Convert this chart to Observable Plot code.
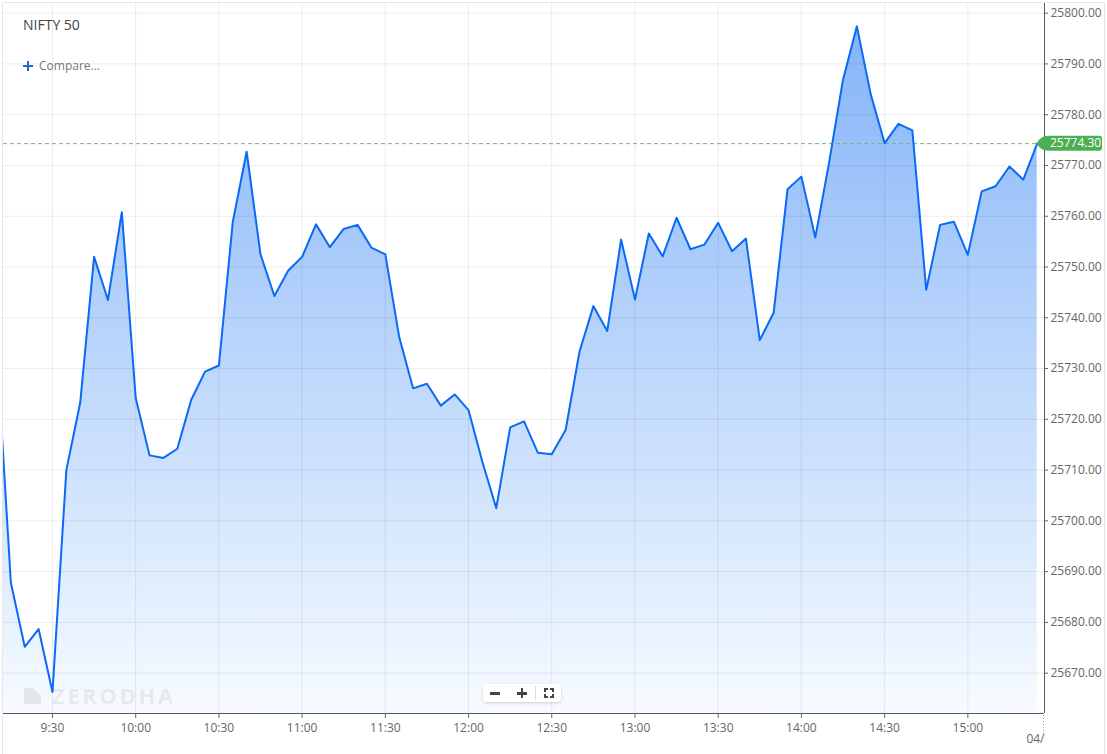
<!DOCTYPE html>
<html><head><meta charset="utf-8">
<script src="https://cdn.jsdelivr.net/npm/d3@7"></script>
<script src="https://cdn.jsdelivr.net/npm/@observablehq/plot@0.6"></script>
<style>
html,body{margin:0;padding:0;background:#fff;}
body{width:1107px;height:754px;overflow:hidden;position:relative;font-family:"Open Sans",sans-serif;}
#chart{position:absolute;left:0;top:0;}
.frame{position:absolute;left:2px;top:2px;width:1101px;height:800px;border:1px solid #e6e6e6;pointer-events:none;}
.title{position:absolute;left:23px;top:18px;font-size:14px;line-height:14px;color:#444;white-space:nowrap;}
.compare{position:absolute;left:39px;top:60px;font-size:12px;line-height:12px;color:#777;white-space:nowrap;}
.bar{position:absolute;}
.wm{position:absolute;left:52px;top:684px;font-size:22px;line-height:22px;font-weight:700;letter-spacing:2.6px;color:rgba(0,0,0,0.075);white-space:nowrap;}
.logo{position:absolute;left:24px;top:688px;width:17px;height:16px;background:rgba(0,0,0,0.075);clip-path:polygon(0 0,52% 0,100% 48%,100% 100%,0 100%);}
.zoomctl{position:absolute;left:483px;top:684px;width:78px;height:18px;background:#fff;border-radius:3px;box-shadow:0 1px 3px rgba(0,0,0,0.18);}
.zoomctl .sep{position:absolute;left:52px;top:2px;width:1px;height:14px;background:#ddd;}
.fs{position:absolute;left:61px;top:4px;width:10px;height:10px;}
.fs i{position:absolute;width:2px;height:2px;border-color:#444;border-style:solid;border-width:0;}
</style></head>
<body>
<div id="chart"></div>
<div class="logo"></div>
<div class="wm">ZERODHA</div>
<div class="title">NIFTY 50</div>
<div class="bar" style="left:23px;top:65px;width:10px;height:2px;background:#1f66d6"></div>
<div class="bar" style="left:27px;top:61px;width:2px;height:10px;background:#1f66d6"></div>
<div class="compare">Compare...</div>
<div class="zoomctl">
<div class="bar" style="left:7px;top:8px;width:10px;height:2.5px;background:#444"></div>
<div class="bar" style="left:34px;top:8px;width:10px;height:2.5px;background:#444"></div>
<div class="bar" style="left:37.75px;top:4px;width:2.5px;height:10px;background:#444"></div>
<div class="sep"></div>
<div class="fs"><i style="left:0;top:0;border-top-width:2px;border-left-width:2px"></i><i style="right:0;top:0;border-top-width:2px;border-right-width:2px"></i><i style="left:0;bottom:0;border-bottom-width:2px;border-left-width:2px"></i><i style="right:0;bottom:0;border-bottom-width:2px;border-right-width:2px"></i></div></div>
<div class="frame"></div>
<script>
const times = ["09:10","09:15","09:20","09:25","09:30","09:35","09:40","09:45","09:50","09:55",
"10:00","10:05","10:10","10:15","10:20","10:25","10:30","10:35","10:40","10:45","10:50","10:55",
"11:00","11:05","11:10","11:15","11:20","11:25","11:30","11:35","11:40","11:45","11:50","11:55",
"12:00","12:05","12:10","12:15","12:20","12:25","12:30","12:35","12:40","12:45","12:50","12:55",
"13:00","13:05","13:10","13:15","13:20","13:25","13:30","13:35","13:40","13:45","13:50","13:55",
"14:00","14:05","14:10","14:15","14:20","14:25","14:30","14:35","14:40","14:45","14:50","14:55",
"15:00","15:05","15:10","15:15","15:20","15:25"];
const values = [25733.0,25687.8,25675.2,25678.7,25666.3,25710.0,25723.3,25752.0,25743.5,25760.8,
25724.2,25712.9,25712.4,25714.2,25723.8,25729.4,25730.6,25758.9,25772.7,25752.5,25744.3,25749.3,
25752.0,25758.4,25753.9,25757.5,25758.3,25753.8,25752.5,25736.2,25726.1,25727.0,25722.7,25724.9,
25721.8,25711.6,25702.5,25718.4,25719.6,25713.4,25713.1,25717.9,25733.3,25742.3,25737.4,25755.4,
25743.6,25756.6,25752.1,25759.7,25753.5,25754.4,25758.7,25753.1,25755.6,25735.6,25741.0,25765.3,
25767.8,25755.8,25770.6,25786.9,25797.4,25784.0,25774.4,25778.2,25776.9,25745.5,25758.3,25758.9,
25752.4,25764.9,25765.9,25769.8,25767.2,25774.3];
const xTickLabels = ["9:30","10:00","10:30","11:00","11:30","12:00","12:30","13:00","13:30","14:00","14:30","15:00"];
const yTicks = [25670,25680,25690,25700,25710,25720,25730,25740,25750,25760,25770,25780,25790,25800];
const lastLabel = "25774.30";
const dateLabel = "04/";

const toMin = s => { const [h, m] = s.split(":").map(Number); return h * 60 + m; };
const data = times.map((t, i) => ({t: toMin(t), v: values[i]}));
const xTickVals = xTickLabels.map(toMin);
const xDomain = [552.34, 927.64];
const yDomain = [25662.06, 25801.9];
const last = data[data.length - 1];

const ns = "http://www.w3.org/2000/svg";
function el(name, attrs) {
  const e = document.createElementNS(ns, name);
  for (const k in attrs) e.setAttribute(k, attrs[k]);
  return e;
}

const defsMark = (index, scales) => {
  const defs = el("defs", {});
  const g = el("linearGradient", {id: "fillGrad", gradientUnits: "userSpaceOnUse", x1: 0, x2: 0, y1: scales.y(25797.4), y2: scales.y(yDomain[0])});
  g.appendChild(el("stop", {offset: "0", "stop-color": "#84b4f8"}));
  g.appendChild(el("stop", {offset: "1", "stop-color": "#f7fbff"}));
  defs.appendChild(g);
  return defs;
};

const labelMark = (index, scales, values, dims) => {
  const gr = el("g", {"text-anchor": "start"});
  const y = scales.y(last.v);
  const tip = scales.x(last.t);
  const right = dims.width - 5;
  const h = 7.5;
  const d = `M${tip},${y} Q${tip+4},${y-h} ${tip+11},${y-h} H${right-3} Q${right},${y-h} ${right},${y-h+3} V${y+h-3} Q${right},${y+h} ${right-3},${y+h} H${tip+11} Q${tip+4},${y+h} ${tip},${y} Z`;
  gr.appendChild(el("path", {d, fill: "#4caf50"}));
  const tx = el("text", {x: dims.width - dims.marginRight + 6, y: y, dy: "0.35em", fill: "#fff", "font-size": 12, "text-anchor": "start"});
  tx.textContent = lastLabel;
  gr.appendChild(tx);
  const bx = dims.width - dims.marginRight - 0.5;
  const by = dims.height - dims.marginBottom;
  gr.appendChild(el("line", {x1: bx, x2: bx, y1: by + 2, y2: by + 22, stroke: "#999", "stroke-dasharray": "1,2"}));
  return gr;
};

const chart = Plot.plot({
  width: 1107,
  height: 754,
  marginLeft: 3,
  marginRight: 63,
  marginTop: 3,
  marginBottom: 41,
  x: {type: "linear", domain: xDomain, label: null},
  y: {type: "linear", domain: yDomain, label: null},
  style: {fontFamily: "'Open Sans', sans-serif", fontSize: "12px", background: "transparent", overflow: "visible"},
  marks: [
    defsMark,
    Plot.areaY(data, {x: "t", y1: yDomain[0], y2: "v", fill: "url(#fillGrad)", clip: true}),
    Plot.gridX(xTickVals, {stroke: "#000", strokeOpacity: 0.075}),
    Plot.gridY(yTicks, {stroke: "#000", strokeOpacity: 0.075}),
    Plot.ruleY([last.v], {stroke: "#74b474", strokeDasharray: "4,3", strokeWidth: 1}),
    Plot.lineY(data, {x: "t", y: "v", stroke: "#0a6af7", strokeWidth: 2, clip: true}),
    Plot.ruleX([xDomain[1]], {stroke: "#5a5a5a"}),
    Plot.ruleY([yDomain[0]], {stroke: "#5a5a5a"}),
    Plot.axisY(yTicks, {anchor: "right", label: null, tickSize: 3, tickPadding: 3, tickFormat: d => d.toFixed(2), color: "#666"}),
    Plot.axisX(xTickVals, {anchor: "bottom", label: null, tickSize: 5, tickPadding: 5, tickFormat: d => xTickLabels[xTickVals.indexOf(d)], color: "#666"}),
    Plot.text([dateLabel], {frameAnchor: "bottom-right", text: d => d, textAnchor: "end", dy: 29, fill: "#666"}),
    labelMark
  ]
});
document.getElementById("chart").appendChild(chart);
</script>
</body></html>
